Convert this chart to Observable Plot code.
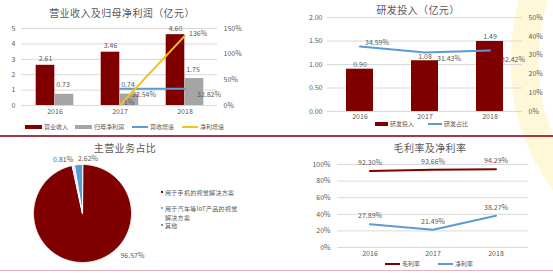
<!DOCTYPE html>
<html><head><meta charset="utf-8">
<script src="https://cdn.jsdelivr.net/npm/d3@7"></script>
<script src="https://cdn.jsdelivr.net/npm/@observablehq/plot@0.6"></script>
<style>
body{margin:0;background:#fff;font-family:"Noto Sans CJK SC",sans-serif;}
#root{position:relative;width:553px;height:273px;overflow:hidden;background:#fff}
.abs{position:absolute}
.title{position:absolute;font-size:10px;line-height:14px;color:#595959;white-space:nowrap;transform:translateX(-50%);letter-spacing:0.4px}
.lt{position:absolute;font-size:6px;line-height:8px;color:#595959;white-space:nowrap}
.sw{position:absolute}
</style></head>
<body><div id="root">
<svg class="abs" style="left:0;top:0" width="553" height="273"><path d="M536,-10 Q500,110 578,200" fill="none" stroke="#FFF4BE" stroke-width="28" opacity="0.6"/></svg>
</div>
<script>
// ---------- data ----------
const years = ["2016", "2017", "2018"];
const revenue = [2.61, 3.46, 4.60];
const netProfit = [0.73, 0.74, 1.75];
const revenueGrowth = [null, 32.54, 32.82];
const profitGrowth = [null, 1, 136];
const leftTicksA = [0, 1, 2, 3, 4, 5];
const rightTicksA = [0, 50, 100, 150];

const rdInvest = [0.90, 1.08, 1.49];
const rdRatio = [34.59, 31.43, 32.42];
const leftTicksB = [0, 0.5, 1, 1.5, 2];
const rightTicksB = [0, 10, 20, 30, 40, 50];

const segNames = ["用于手机的视觉解决方案", "用于汽车等IoT产品的视觉解决方案", "其他"];
const segShares = [96.57, 0.81, 2.62];

const grossMargin = [92.30, 93.66, 94.29];
const netMargin = [27.89, 21.49, 38.27];
const marginTicks = [0, 20, 40, 60, 80, 100];

const titles = ["营业收入及归母净利润（亿元）", "研发投入（亿元）", "主营业务占比", "毛利率及净利率"];
const legendA = ["营业收入", "归母净利润", "营收增速", "净利增速"];
const legendB = ["研发投入", "研发占比"];
const legendD = ["毛利率", "净利率"];

// ---------- styles ----------
const RED = "#800000", GRAY = "#A5A5A5", BLUE = "#5B9BD5", YELLOW = "#F5C21B", LIGHT = "#DCE5F2";
const GRID = "#D9D9D9", TXT = "#595959";
const FONT = "'Noto Sans CJK SC', sans-serif";
const baseStyle = {fontFamily: FONT, fontSize: "7px", color: TXT, background: "transparent", overflow: "visible"};
const root = document.getElementById("root");

function place(node, left, top) {
  node.style.position = "absolute";
  node.style.left = left + "px";
  node.style.top = top + "px";
  root.appendChild(node);
}
function title(text, cx, cy) {
  const d = document.createElement("div");
  d.className = "title"; d.textContent = text;
  d.style.left = cx + "px"; d.style.top = (cy - 7) + "px";
  root.appendChild(d);
}
function legendItem(x, y, kind, color, text, w) {
  const s = document.createElement("div");
  s.className = "sw";
  const h = kind === "rect" ? 4 : 2;
  s.style.cssText = `left:${x}px;top:${y - h / 2}px;width:${w}px;height:${h}px;background:${color}`;
  root.appendChild(s);
  const t = document.createElement("div");
  t.className = "lt"; t.textContent = text;
  t.style.left = (x + w + 2) + "px"; t.style.top = (y - 4) + "px";
  root.appendChild(t);
}

// ---------- chart A ----------
const A = years.map((y, i) => ({year: y, rev: revenue[i], np: netProfit[i], rg: revenueGrowth[i], pg: profitGrowth[i]}));
const kA = 5 / 150;
const chartA = Plot.plot({
  width: 275, height: 135, marginLeft: 21, marginRight: 58, marginTop: 28, marginBottom: 30,
  style: baseStyle,
  x: {type: "band", domain: years, padding: 0, label: null},
  y: {domain: [0, 5], label: null},
  marks: [
    Plot.gridY(leftTicksA, {stroke: GRID, strokeOpacity: 1}),
    Plot.axisY(leftTicksA, {tickSize: 0, tickPadding: 6, label: null, fill: TXT}),
    Plot.axisY(rightTicksA.map(v => v * kA), {anchor: "right", tickSize: 0, tickPadding: 6, label: null, fill: TXT, tickFormat: d => Math.round(d / kA) + "%"}),
    Plot.axisX({tickSize: 0, tickPadding: 4, label: null, fill: TXT}),
    Plot.barY(A, {x: "year", y: "rev", fill: RED, insetLeft: 13.7, insetRight: 32.7}),
    Plot.barY(A, {x: "year", y: "np", fill: GRAY, insetLeft: 32.7, insetRight: 13.7}),
    Plot.text(A, {x: "year", y: "rev", text: d => d.rev.toFixed(2), dx: -9.5, dy: -4, lineAnchor: "bottom", fill: TXT}),
    Plot.text(A, {x: "year", y: "np", text: d => d.np.toFixed(2), dx: 8, dy: -7, lineAnchor: "bottom", fill: TXT}),
    Plot.lineY(A.filter(d => d.rg != null), {x: "year", y: d => d.rg * kA, stroke: BLUE, strokeWidth: 2}),
    Plot.lineY(A.filter(d => d.pg != null), {x: "year", y: d => d.pg * kA, stroke: YELLOW, strokeWidth: 2}),
    Plot.text(A.filter(d => d.rg != null), {x: "year", y: d => d.rg * kA, text: d => d.rg.toFixed(2) + "%", dx: 12, dy: 6, textAnchor: "start", fill: TXT}),
    Plot.text(A.filter(d => d.pg != null), {x: "year", y: d => d.pg * kA, text: d => d.pg + "%", dx: 4, dy: -2, textAnchor: "start", fill: TXT})
  ]
});
place(chartA, 0, 0);
title(titles[0], 122, 13);
legendItem(25, 127, "rect", RED, legendA[0], 17);
legendItem(75, 127, "rect", GRAY, legendA[1], 17);
legendItem(132, 127, "line", BLUE, legendA[2], 16);
legendItem(182, 127, "line", YELLOW, legendA[3], 16);

// ---------- chart B ----------
const B = years.map((y, i) => ({year: y, inv: rdInvest[i], ratio: rdRatio[i]}));
const kB = 2 / 50;
const chartB = Plot.plot({
  width: 278, height: 135, marginLeft: 52, marginRight: 31, marginTop: 17, marginBottom: 24,
  style: baseStyle,
  x: {type: "band", domain: years, padding: 0, label: null},
  y: {domain: [0, 2], label: null},
  marks: [
    Plot.gridY(leftTicksB, {stroke: GRID, strokeOpacity: 1}),
    Plot.axisY(leftTicksB, {tickSize: 0, tickPadding: 5, label: null, fill: TXT, tickFormat: d => d.toFixed(2)}),
    Plot.axisY(rightTicksB.map(v => v * kB), {anchor: "right", tickSize: 0, tickPadding: 6, label: null, fill: TXT, tickFormat: d => Math.round(d / kB) + "%"}),
    Plot.axisX({tickSize: 0, tickPadding: 3, label: null, fill: TXT}),
    Plot.barY(B, {x: "year", y: "inv", fill: RED, insetLeft: 19, insetRight: 19}),
    Plot.text(B, {x: "year", y: "inv", text: d => d.inv.toFixed(2), dy: -2, lineAnchor: "bottom", fill: TXT}),
    Plot.lineY(B, {x: "year", y: d => d.ratio * kB, stroke: BLUE, strokeWidth: 2}),
    Plot.text(B, {x: "year", y: d => d.ratio * kB, text: d => d.ratio.toFixed(2) + "%", dx: 5, dy: -4, textAnchor: "start", fill: TXT, filter: (d, i) => i === 0}),
    Plot.text(B, {x: "year", y: d => d.ratio * kB, text: d => d.ratio.toFixed(2) + "%", dx: 12, dy: 6, textAnchor: "start", fill: TXT, filter: (d, i) => i === 1}),
    Plot.text(B, {x: "year", y: d => d.ratio * kB, text: d => d.ratio.toFixed(2) + "%", dx: 11, dy: 9, textAnchor: "start", fill: TXT, filter: (d, i) => i === 2})
  ]
});
place(chartB, 275, 0);
title(titles[1], 418, 10);
legendItem(375, 124, "rect", RED, legendB[0], 13);
legendItem(428, 124, "line", BLUE, legendB[1], 14);

// ---------- chart C (pie) ----------
const pieColors = [RED, LIGHT, BLUE];
const arcs = d3.pie().sort(null)(segShares);
const slices = arcs.map((a, i) => {
  const pts = [{x: 0, y: 0}];
  const n = Math.max(2, Math.ceil((a.endAngle - a.startAngle) / 0.01));
  for (let j = 0; j <= n; j++) {
    const t = a.startAngle + (a.endAngle - a.startAngle) * j / n;
    pts.push({x: Math.sin(t), y: Math.cos(t)});
  }
  return pts;
});
const labelNudge = [[44, -12], [-9, 0], [10, 0]];
const pieLabels = arcs.map((a, i) => {
  const m = (a.startAngle + a.endAngle) / 2;
  return {x: 1.12 * Math.sin(m), y: 1.12 * Math.cos(m), text: segShares[i].toFixed(2) + "%", i};
});
const chartC = Plot.plot({
  width: 275, height: 138, marginLeft: 33, marginRight: 144, marginTop: 29, marginBottom: 11,
  style: baseStyle,
  x: {domain: [-1, 1], axis: null},
  y: {domain: [-1, 1], axis: null},
  marks: [
    ...slices.map((pts, i) => Plot.line(pts, {x: "x", y: "y", fill: pieColors[i], stroke: "white", strokeWidth: 1, curve: "linear-closed"})),
    ...pieLabels.map((d, i) => Plot.text([d], {x: "x", y: "y", text: "text", dx: labelNudge[i][0], dy: labelNudge[i][1], fill: TXT}))
  ]
});
place(chartC, 0, 135);
title(titles[2], 125, 148);
const legYs = [192, 208, 225];
segNames.forEach((name, i) => {
  const b = document.createElement("div");
  b.className = "sw";
  b.style.cssText = `left:161px;top:${legYs[i] - 1}px;width:2px;height:2px;background:${i === 1 ? "#8FA9CF" : pieColors[i]}`;
  root.appendChild(b);
  const t = document.createElement("div");
  t.className = "lt";
  t.style.cssText = `left:165px;top:${legYs[i] - 4}px;width:76px;white-space:normal;font-size:6px;line-height:9px;letter-spacing:0.3px`;
  t.textContent = name;
  root.appendChild(t);
});

// ---------- chart D ----------
const D = years.flatMap((y, i) => [
  {year: y, s: legendD[0], v: grossMargin[i]},
  {year: y, s: legendD[1], v: netMargin[i]}
]);
const chartD = Plot.plot({
  width: 278, height: 138, marginLeft: 62, marginRight: 25, marginTop: 29, marginBottom: 26,
  style: baseStyle,
  x: {type: "band", domain: years, padding: 0, label: null},
  y: {domain: [0, 100], label: null},
  marks: [
    Plot.gridY(marginTicks, {stroke: GRID, strokeOpacity: 1}),
    Plot.axisY(marginTicks, {tickSize: 0, tickPadding: 7, label: null, fill: TXT, tickFormat: d => d + "%"}),
    Plot.axisX({tickSize: 0, tickPadding: 4, label: null, fill: TXT}),
    Plot.lineY(D.filter(d => d.s === legendD[0]), {x: "year", y: "v", stroke: RED, strokeWidth: 2}),
    Plot.lineY(D.filter(d => d.s === legendD[1]), {x: "year", y: "v", stroke: BLUE, strokeWidth: 2}),
    Plot.text(D, {x: "year", y: "v", text: d => d.v.toFixed(2) + "%", dy: -6, lineAnchor: "bottom", fill: TXT})
  ]
});
place(chartD, 275, 135);
title(titles[3], 430, 148);
legendItem(385, 264, "line", RED, legendD[0], 15);
legendItem(438, 264, "line", BLUE, legendD[1], 15);

// separators
const sep1 = document.createElement("div");
sep1.style.cssText = "position:absolute;left:0;top:135px;width:553px;height:2px;background:#9E3B45";
root.appendChild(sep1);
const sep2 = document.createElement("div");
sep2.style.cssText = "position:absolute;left:0;top:270px;width:553px;height:1px;background:#E4B5C0";
root.appendChild(sep2);
</script>
</body></html>
